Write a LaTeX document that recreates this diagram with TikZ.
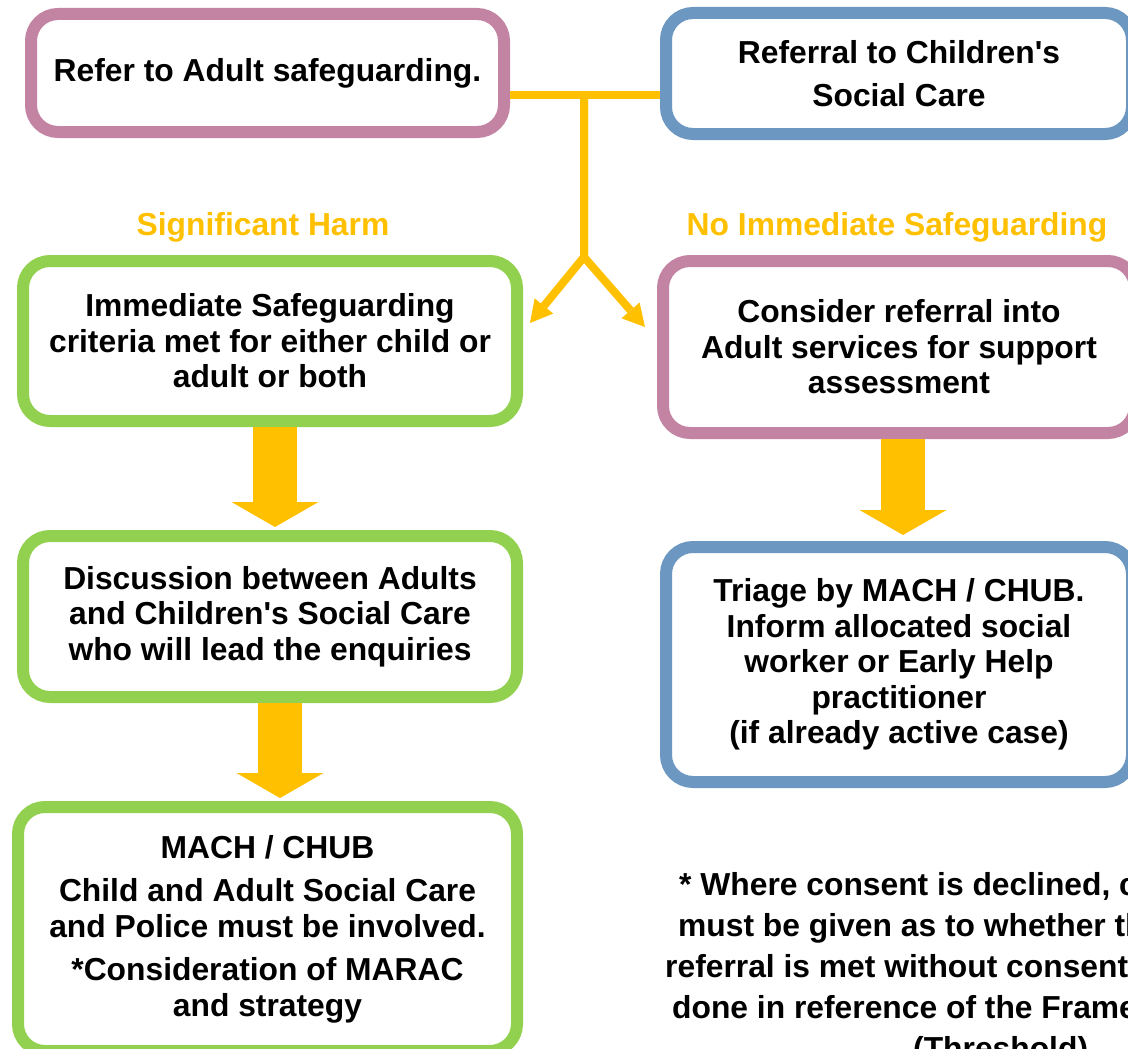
\documentclass[tikz,border=0pt]{standalone}
\usepackage{fontspec}
\setmainfont{Liberation Sans}
\usepackage{tikz}
\usetikzlibrary{arrows.meta}
\usepackage{xcolor}

\definecolor{amber}{HTML}{FFC000}
\definecolor{leaf}{HTML}{92D050}
\definecolor{mauve}{HTML}{C384A4}
\definecolor{steel}{HTML}{6B97C1}

\newcommand{\boxfont}{\fontsize{31.8}{35.5}\selectfont\bfseries}
\newcommand{\notefont}{\fontsize{31.8}{41}\selectfont\bfseries}

\tikzset{
    flowbox/.style={rectangle, draw, line width=12pt, outer sep=6pt, fill=white,
        rounded corners=27pt, align=center, inner sep=0pt, font=\boxfont},
    greenbox/.style={flowbox, draw=leaf},
    mauvebox/.style={flowbox, draw=mauve},
    steelbox/.style={flowbox, draw=steel},
    lbl/.style={text=amber, font=\boxfont, inner sep=0pt},
    notetext/.style={font=\notefont, inner sep=0pt, anchor=base west},
    thinlink/.style={draw=amber, line width=8pt, line join=miter,
        -{Triangle[width=24pt, length=22pt, line width=0pt]}},
    fatarrow/.style={draw=amber, line width=44pt,
        -{Triangle[width=87pt, length=25pt, line width=0pt]}}
}

\begin{document}
\begin{tikzpicture}[x=1pt, y=-1pt]
    % Frame of the page
    \useasboundingbox (0, 0) rectangle (1128, 1049);
    \fill [white] (0, 0) rectangle (1128, 1049);
    \clip (0, 0) rectangle (1128, 1049);
    % Top row
    \node [mauvebox, minimum width=473pt, minimum height=118pt] (refer) at (267.5, 73) {\raisebox{-3pt}{Refer to Adult safeguarding.}};
    \node [steelbox, minimum width=466pt, minimum height=121pt] (childsc) at (899, 73.5) {Referral to Children\textquotesingle s\\[8pt] Social Care};
    % Labels over the two columns
    \node [lbl] (harmlbl) at (263, 227) {Significant Harm};
    \node [lbl] (noimmlbl) at (897, 227) {No Immediate Safeguarding};
    % Left column
    \node [greenbox, minimum width=494pt, minimum height=160pt] (immediate) at (270, 341) {Immediate Safeguarding\\ criteria met for either child or\\ adult or both};
    \node [greenbox, minimum width=494pt, minimum height=161pt] (discuss) at (270, 616.5) {Discussion between Adults\\ and Children\textquotesingle s Social Care\\ who will lead the enquiries};
    \node [greenbox, minimum width=499pt, minimum height=244pt] (machchub) at (267.5, 929) {MACH / CHUB\\[8pt] Child and Adult Social Care\\ and Police must be involved.\\[8pt] *Consideration of MARAC\\ and strategy};
    % Right column
    \node [mauvebox, minimum width=472pt, minimum height=172pt] (consider) at (899, 347) {Consider referral into\\ Adult services for support\\ assessment};
    \node [steelbox, minimum width=466pt, minimum height=235pt] (triage) at (899, 664.5) {Triage by MACH / CHUB.\\ Inform allocated social\\ worker or Early Help\\ practitioner\\ (if already active case)};
    % Note at the bottom right
    \foreach \ln/\lx/\ly/\txt in {1/679/895/{* Where consent is declined, consideration},
            2/678/936/{must be given as to whether the threshold},
            3/665/977/{referral is met without consent. This should},
            4/672/1018/{done in reference of the Framework},
            5/913/1059/{(Threshold)}}
        \node [notetext] (note\ln) at (\lx, \ly) {\txt};
    % Yellow T and fork
    \coordinate (tee) at (584, 95);
    \coordinate (fork) at (584, 257);
    \coordinate (harmend) at (530, 323);
    \coordinate (noimmend) at (645, 327);
    \draw [draw=amber, line width=8pt] (refer.east |- tee) -- (childsc.west |- tee);
    \draw [thinlink] (tee) -- (fork) -- (harmend);
    \draw [thinlink] (tee) -- (fork) -- (noimmend);
    % Block arrows
    \coordinate (down1) at ([xshift=5pt]immediate.south);
    \coordinate (down2) at ([xshift=10pt]discuss.south);
    \coordinate (down3) at ([xshift=4pt]consider.south);
    \draw [fatarrow, shorten >=3pt] (down1) -- (down1 |- discuss.north);
    \draw [fatarrow, shorten >=3pt] (down2) -- (down2 |- machchub.north);
    \draw [fatarrow, shorten >=6pt] (down3) -- (down3 |- triage.north);
\end{tikzpicture}
\end{document}
